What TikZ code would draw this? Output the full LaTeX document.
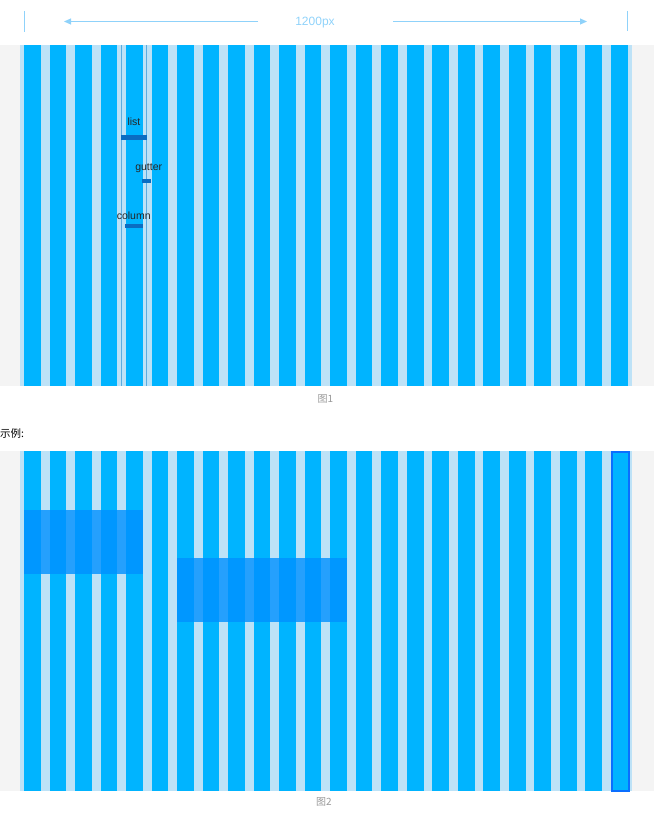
\documentclass[tikz,border=0pt]{standalone}
\usepackage{fontspec}
\setmainfont{Liberation Sans}
\newfontfamily\cjk{Noto Sans CJK SC}
\usepackage{xcolor}
\usetikzlibrary{arrows.meta, positioning}

\definecolor{panelgray}{HTML}{F4F4F4}
\definecolor{gutterblue}{HTML}{BDE2F7}
\definecolor{colblue}{HTML}{00B4FF}
\definecolor{rulerblue}{HTML}{8FD2FA}
\definecolor{markblue}{HTML}{0A6DC2}
\definecolor{edgeblue}{HTML}{5BACE0}
\definecolor{spanblue}{HTML}{0090FF}
\definecolor{pickblue}{HTML}{0A6EFF}
\definecolor{capgray}{HTML}{999999}

\tikzset{
  ruler/.style={draw=rulerblue, line width=1pt},
  rulerarrow/.style={ruler, -{Triangle[length=7pt, width=6pt]}},
  markbar/.style={fill=markblue},
  marklabel/.style={font=\fontsize{10.5}{12}\selectfont, text=black!85, anchor=base, inner sep=0pt},
  caption/.style={font=\cjk\fontsize{10}{12}\selectfont, text=capgray, inner sep=0pt},
  spanbox/.style={fill=spanblue, opacity=0.8},
}

\begin{document}
\begin{tikzpicture}[x=1pt, y=-1pt]
  \useasboundingbox (0,0) rectangle (654,816);
  % width ruler above figure 1
  \draw[ruler] (24,11) -- (24,32);
  \draw[ruler] (627,11) -- (627,31);
  \node[font=\fontsize{12}{14}\selectfont, text=rulerblue, inner sep=0pt, anchor=base] (width) at (315,25.5) {1200px};
  \coordinate (arrLtail) at (258,21.5);
  \coordinate (arrL) at (64,21.5);
  \coordinate (arrRtail) at (393,21.5);
  \coordinate (arrR) at (587,21.5);
  \draw[rulerarrow] (arrLtail) -- (arrL);
  \draw[rulerarrow] (arrRtail) -- (arrR);
  % grid panels: 24 columns, list = 25.52px, column = 16.7px
  \foreach \ya/\yb in {45/386, 450.5/791} {
    \fill[panelgray] (0,\ya) rectangle (654,\yb);
    \fill[gutterblue] (19.5,\ya) rectangle (632,\yb);
    \foreach \k in {0,...,23}
      \fill[colblue] ({24+25.52*\k},\ya) rectangle ({40.7+25.52*\k},\yb);
  }
  % figure 1: one list = half gutter + column + half gutter
  \draw[edgeblue, line width=0.8pt] (121.5,45) -- (121.5,386);
  \draw[edgeblue, line width=0.8pt] (146.6,45) -- (146.6,386);
  \fill[markbar] (121,135) rectangle (147,139.5);
  \node[marklabel] (listlbl) at (134,125) {list};
  \fill[markbar] (142.3,178.5) rectangle (151,182.7);
  \node[marklabel] (gutterlbl) at (148.7,170.5) {gutter};
  \fill[markbar] (125,223.5) rectangle (142.7,228.2);
  \node[marklabel] (columnlbl) at (133.7,219.3) {column};
  \node[caption] (fig1) at (325.5,399) {图1};
  \node[font=\cjk\fontsize{10.5}{12}\selectfont, anchor=west, inner sep=0pt] (demo) at (0,433.5) {示例:};
  % figure 2: spans of 5 and 7 columns, last column picked
  \fill[spanbox] (24,510) rectangle (142.8,574);
  \fill[spanbox] (177.1,558) rectangle (347,622);
  \draw[pickblue, line width=2pt] (612,451.5) rectangle (629,791);
  \node[caption] (fig2) at (324,802) {图2};
\end{tikzpicture}
\end{document}
